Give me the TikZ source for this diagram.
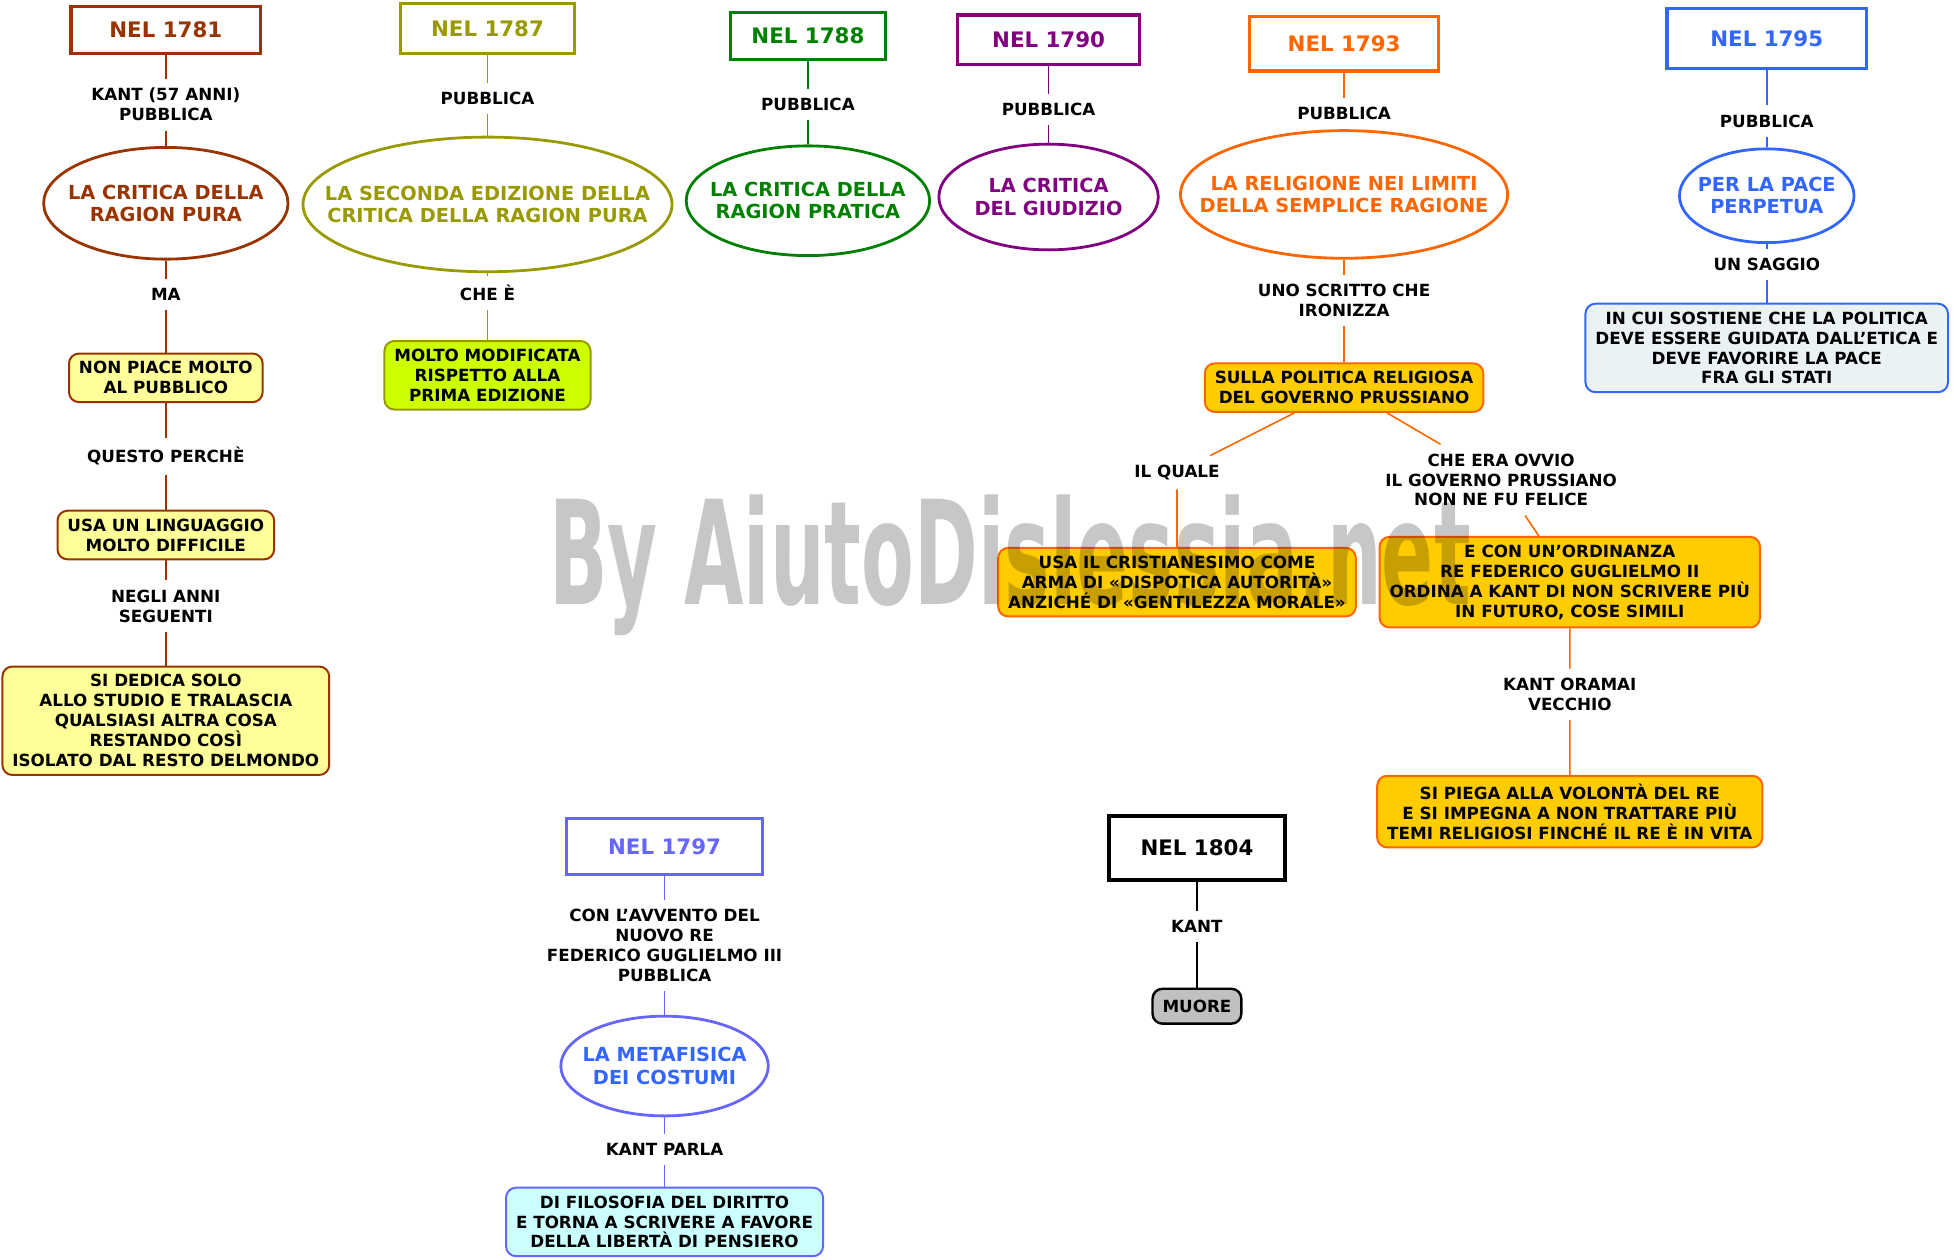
\documentclass[tikz,border=0pt]{standalone}
\usepackage{fontspec}
\setmainfont{DejaVu Sans}
\usepackage{graphicx}
\usepackage{tikz}
\usetikzlibrary{shapes.geometric, positioning}
\definecolor{KBrown}{HTML}{993300}
\definecolor{KOlive}{HTML}{999900}
\definecolor{KGreen}{HTML}{008000}
\definecolor{KPurple}{HTML}{800080}
\definecolor{KOrange}{HTML}{FF6600}
\definecolor{KBlue}{HTML}{3366FF}
\definecolor{KLilac}{HTML}{6666FF}
\definecolor{PaleYellow}{HTML}{FFFF99}
\definecolor{Lime}{HTML}{CCFF00}
\definecolor{Gold}{HTML}{FFCC00}
\definecolor{PaleBlue}{HTML}{EBF2F5}
\definecolor{PaleCyan}{HTML}{CCFFFF}
\definecolor{MidGrey}{HTML}{C0C0C0}

\begin{document}
\begin{tikzpicture}[x=0.625pt, y=-0.625pt, on grid]
    \tikzstyle{year} = [rectangle, draw, line width=1.6pt, font=\fontsize{10.7}{13}\selectfont\bfseries]
    \tikzstyle{work} = [ellipse, draw, line width=1.4pt, align=center, inner xsep=-20pt, inner ysep=0pt, font=\fontsize{9.7}{11.2}\selectfont\bfseries]
    \tikzstyle{note} = [rectangle, draw, line width=1pt, rounded corners=5pt, align=center, inner xsep=5pt, inner ysep=4pt, font=\fontsize{8.4}{10}\selectfont\bfseries]
    \tikzstyle{verb} = [align=center, inner sep=4.5pt, font=\fontsize{8.4}{10}\selectfont\bfseries]
    \tikzstyle{line} = [draw, line width=0.8pt]

    \useasboundingbox (0,0) rectangle (1568,1010);

    % 1781
    \node [year, KBrown, minimum width=95pt, minimum height=23.75pt] (y1781) at (133,24) {NEL 1781};
    \node [verb, below=37.5pt of y1781] (v1781a) {KANT (57 ANNI)\\PUBBLICA};
    \node [work, KBrown, minimum width=122.5pt, minimum height=56pt, below=49.4pt of v1781a] (w1781) {LA CRITICA DELLA\\RAGION PURA};
    \node [verb, below=45.6pt of w1781] (v1781b) {MA};
    \node [note, draw=KBrown, fill=PaleYellow, below=41.9pt of v1781b] (n1781a) {NON PIACE MOLTO\\AL PUBBLICO};
    \node [verb, below=39.4pt of n1781a] (v1781c) {QUESTO PERCHÈ};
    \node [note, draw=KBrown, fill=PaleYellow, below=39.4pt of v1781c] (n1781b) {USA UN LINGUAGGIO\\MOLTO DIFFICILE};
    \node [verb, below=35.6pt of n1781b] (v1781d) {NEGLI ANNI\\SEGUENTI};
    \node [note, draw=KBrown, fill=PaleYellow, below=57.5pt of v1781d] (n1781c) {SI DEDICA SOLO\\ALLO STUDIO E TRALASCIA\\QUALSIASI ALTRA COSA\\RESTANDO COSÌ\\ISOLATO DAL RESTO DELMONDO};

    % 1787
    \node [year, KOlive, minimum width=87.5pt, minimum height=25pt] (y1787) at (391,23) {NEL 1787};
    \node [verb, below=35pt of y1787] (v1787a) {PUBBLICA};
    \node [work, KOlive, minimum width=185pt, minimum height=67.5pt, below=53.1pt of v1787a] (w1787) {LA SECONDA EDIZIONE DELLA\\CRITICA DELLA RAGION PURA};
    \node [verb, below=44.4pt of w1787] (v1787b) {CHE È};
    \node [note, draw=KOlive, fill=Lime, below=41.25pt of v1787b] (n1787) {MOLTO MODIFICATA\\RISPETTO ALLA\\PRIMA EDIZIONE};

    % 1788
    \node [year, KGreen, minimum width=77.5pt, minimum height=23.75pt] (y1788) at (648,29) {NEL 1788};
    \node [verb, below=34.4pt of y1788] (v1788) {PUBBLICA};
    \node [work, KGreen, minimum width=122pt, minimum height=55pt, below=48.1pt of v1788] (w1788) {LA CRITICA DELLA\\RAGION PRATICA};

    % 1790
    \node [year, KPurple, minimum width=91.25pt, minimum height=25pt] (y1790) at (841,32) {NEL 1790};
    \node [verb, below=35pt of y1790] (v1790) {PUBBLICA};
    \node [work, KPurple, minimum width=110pt, minimum height=53pt, below=43.75pt of v1790] (w1790) {LA CRITICA\\DEL GIUDIZIO};

    % 1793
    \node [year, KOrange, minimum width=95pt, minimum height=27.5pt] (y1793) at (1078,35) {NEL 1793};
    \node [verb, below=35pt of y1793] (v1793a) {PUBBLICA};
    \node [work, KOrange, minimum width=164pt, minimum height=64pt, below=40.6pt of v1793a] (w1793) {LA RELIGIONE NEI LIMITI\\DELLA SEMPLICE RAGIONE};
    \node [verb, below=53.1pt of w1793] (v1793b) {UNO SCRITTO CHE\\IRONIZZA};
    \node [note, draw=KOrange, fill=Gold, below=43.75pt of v1793b] (n1793a) {SULLA POLITICA RELIGIOSA\\DEL GOVERNO PRUSSIANO};
    \node [verb, below left=42.5pt and 83.75pt of n1793a] (v1793c) {IL QUALE};
    \node [note, draw=KOrange, fill=Gold, below=55pt of v1793c] (n1793b) {USA IL CRISTIANESIMO COME\\ARMA DI «DISPOTICA AUTORITÀ»\\ANZICHÉ DI «GENTILEZZA MORALE»};
    \node [verb, below right=46.25pt and 78.75pt of n1793a] (v1793d) {CHE ERA OVVIO\\IL GOVERNO PRUSSIANO\\NON NE FU FELICE};
    \node [note, draw=KOrange, fill=Gold, below right=51.25pt and 34.4pt of v1793d] (n1793c) {E CON UN’ORDINANZA\\RE FEDERICO GUGLIELMO II\\ORDINA A KANT DI NON SCRIVERE PIÙ\\IN FUTURO, COSE SIMILI};
    \node [verb, below=56.25pt of n1793c] (v1793e) {KANT ORAMAI\\VECCHIO};
    \node [note, draw=KOrange, fill=Gold, below=58.75pt of v1793e] (n1793d) {SI PIEGA ALLA VOLONTÀ DEL RE\\E SI IMPEGNA A NON TRATTARE PIÙ\\TEMI RELIGIOSI FINCHÉ IL RE È IN VITA};

    % 1795
    \node [year, KBlue, minimum width=100pt, minimum height=30pt] (y1795) at (1417,31) {NEL 1795};
    \node [verb, below=41.25pt of y1795] (v1795a) {PUBBLICA};
    \node [work, KBlue, minimum width=87.5pt, minimum height=47pt, below=37.5pt of v1795a] (w1795) {PER LA PACE\\PERPETUA};
    \node [verb, below=34.4pt of w1795] (v1795b) {UN SAGGIO};
    \node [note, draw=KBlue, fill=PaleBlue, below=41.9pt of v1795b] (n1795) {IN CUI SOSTIENE CHE LA POLITICA\\DEVE ESSERE GUIDATA DALL’ETICA E\\DEVE FAVORIRE LA PACE\\FRA GLI STATI};

    % 1797
    \node [year, KLilac, minimum width=98pt, minimum height=28pt] (y1797) at (533,679) {NEL 1797};
    \node [verb, below=49.4pt of y1797] (v1797a) {CON L'AVVENTO DEL\\NUOVO RE\\FEDERICO GUGLIELMO III\\PUBBLICA};
    \node [work, draw=KLilac, text=KBlue, minimum width=104pt, minimum height=50pt, below=60.6pt of v1797a] (w1797) {LA METAFISICA\\DEI COSTUMI};
    \node [verb, below=41.9pt of w1797] (v1797b) {KANT PARLA};
    \node [note, draw=KLilac, fill=PaleCyan, below=36.25pt of v1797b] (n1797) {DI FILOSOFIA DEL DIRITTO\\E TORNA A SCRIVERE A FAVORE\\DELLA LIBERTÀ DI PENSIERO};

    % 1804
    \node [year, line width=2pt, minimum width=88pt, minimum height=32pt] (y1804) at (960,680) {NEL 1804};
    \node [verb, below=39.4pt of y1804] (v1804) {KANT};
    \node [note, fill=MidGrey, line width=1.2pt, minimum width=44pt, minimum height=17.5pt, inner ysep=2pt, below=40pt of v1804] (n1804) {MUORE};

    % connectors
    \path [line, KBrown] (y1781) -- (v1781a) -- (w1781) -- (v1781b) -- (n1781a) -- (v1781c) -- (n1781b) -- (v1781d) -- (n1781c);
    \path [line, KOlive] (y1787) -- (v1787a) -- (w1787) -- (v1787b) -- (n1787);
    \path [line, KGreen] (y1788) -- (v1788) -- (w1788);
    \path [line, KPurple] (y1790) -- (v1790) -- (w1790);
    \path [line, KOrange] (y1793) -- (v1793a) -- (w1793) -- (v1793b) -- (n1793a);
    \path [line, KOrange] (n1793a) -- (v1793c) -- (n1793b);
    \path [line, KOrange] (n1793a) -- (v1793d) -- (n1793c) -- (v1793e) -- (n1793d);
    \path [line, KBlue] (y1795) -- (v1795a) -- (w1795) -- (v1795b) -- (n1795);
    \path [line, KLilac] (y1797) -- (v1797a) -- (w1797) -- (v1797b) -- (n1797);
    \path [line, black] (y1804) -- (v1804) -- (n1804);

    % watermark
    \node [anchor=base, opacity=0.22, inner sep=0pt] (mark) at (810,485) {\resizebox{462pt}{55pt}{\bfseries By AiutoDislessia.net}};
\end{tikzpicture}
\end{document}
